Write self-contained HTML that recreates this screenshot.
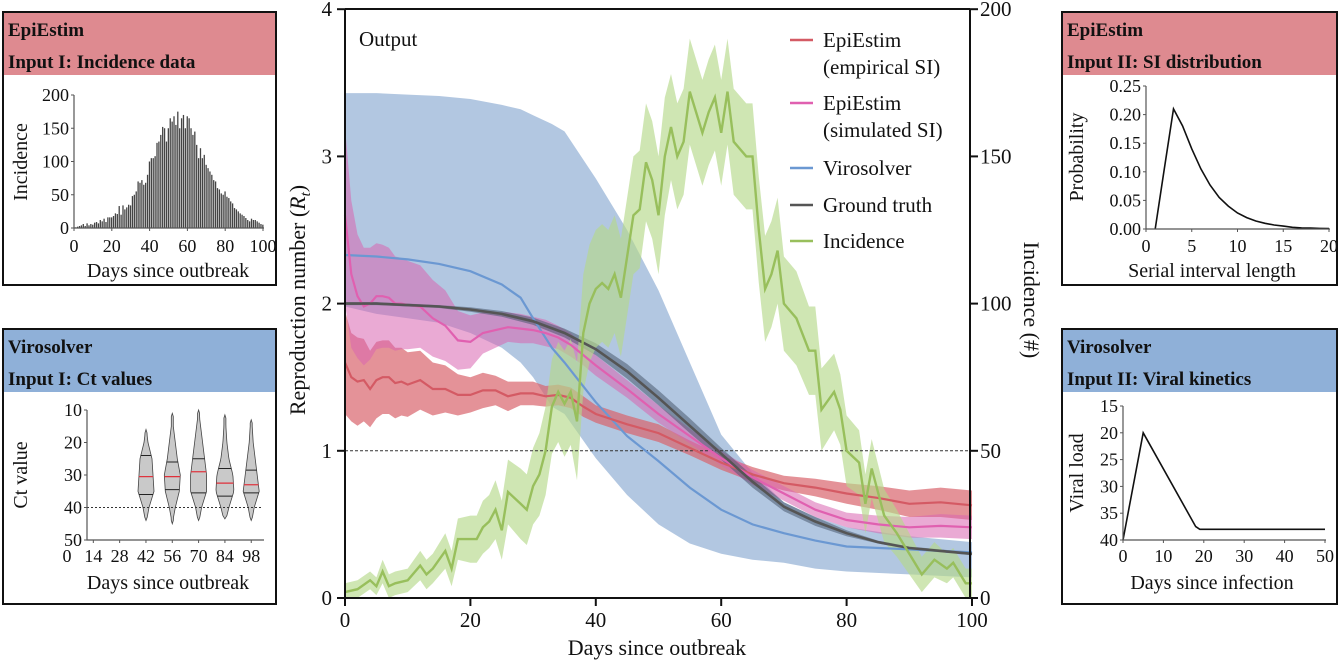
<!DOCTYPE html>
<html><head><meta charset="utf-8">
<style>
html,body{margin:0;padding:0;background:#fff;}
svg, svg text{font-family:"Liberation Serif","DejaVu Serif","Times New Roman",serif;}
svg{display:block;}
</style></head>
<body>
<svg id="fig" width="1340" height="664" viewBox="0 0 1340 664" font-family="Liberation Serif, DejaVu Serif, serif"></svg>
<script>
// ---------- Main chart data ----------
const redDays = [0,1,2,3,4,5,6,7,8,9,10,12,14,16,18,20,22,24,26,28,30,32,34,36,38,40,45,50,55,60,65,70,75,80,85,90,95,100];
const redVals = [1.6,1.5,1.47,1.48,1.42,1.48,1.5,1.5,1.46,1.47,1.45,1.48,1.42,1.42,1.38,1.38,1.41,1.41,1.37,1.39,1.39,1.37,1.38,1.36,1.3,1.25,1.18,1.12,1.02,0.92,0.84,0.78,0.75,0.71,0.68,0.64,0.65,0.63];
const redHw = [.35,.3,.3,.28,.26,.26,.25,.25,.24,.23,.22,.2,.18,.16,.14,.12,.12,.1,.1,.08,.08,.07,.07,.07,.07,.06,.06,.06,.05,.05,.05,.05,.06,.07,.08,.09,.1,.1];
const pinkVals = [2.6,2.2,2.05,1.98,2.0,2.05,2.05,2.04,2.0,2.0,1.99,1.98,1.9,1.85,1.75,1.74,1.8,1.82,1.84,1.83,1.82,1.8,1.77,1.72,1.65,1.58,1.42,1.25,1.1,0.95,0.82,0.71,0.6,0.53,0.5,0.48,0.49,0.48];
const pinkHw = [.6,.5,.42,.4,.38,.36,.35,.34,.32,.31,.3,.28,.26,.24,.2,.18,.14,.12,.1,.1,.09,.09,.08,.08,.07,.07,.06,.06,.05,.05,.05,.05,.05,.05,.06,.07,.08,.08];
const gtDays = [0,5,10,15,20,25,30,35,40,45,50,55,60,65,70,75,80,85,90,95,100];
const gtVals = [2.0,2.0,1.99,1.98,1.96,1.93,1.88,1.8,1.69,1.54,1.36,1.17,0.98,0.79,0.62,0.52,0.44,0.38,0.34,0.32,0.3];
const gtHw = [.01,.01,.01,.01,.015,.02,.025,.03,.04,.05,.05,.05,.04,.04,.03,.03,.02,.01,.01,.01,.01];
const viroDays = [0,5,10,15,20,25,28,30,33,35,40,45,50,55,60,65,70,75,80,90,100];
const viroVals = [2.33,2.32,2.3,2.27,2.22,2.13,2.04,1.9,1.7,1.6,1.33,1.1,0.93,0.75,0.6,0.5,0.44,0.39,0.35,0.33,0.31];
const viroHi = [3.43,3.43,3.42,3.41,3.39,3.35,3.32,3.28,3.22,3.17,2.85,2.5,2.09,1.6,1.11,0.85,0.65,0.55,0.48,0.42,0.38];
const viroLo = [1.98,1.93,1.9,1.87,1.8,1.7,1.6,1.5,1.3,1.25,0.95,0.7,0.5,0.37,0.3,0.26,0.24,0.2,0.18,0.16,0.14];
const incDays = [0,2,4,5,6,7,8,10,12,13, 14,16,17,18,20,21,22,23,24,25, 26,28,29,30,31,32,33,34,35,36, 37,38,39,40,41,42,43,44,46,47, 48,49,50,51,52,53,54,55,57,58, 59,60,61,62,64,65,66,67,68,69, 70,72,74,75,76,78,79,80,82,83, 84,86,88,90,92,94,96,97,99,100];
const incVals = [2,3,6,4,9,4,5,6,11,8, 10,16,10,20,20,20,24,26,30,23, 36,32,30,38,42,50,65,70,66,70, 60,90,100,105,107,105,110,102,130,132, 148,142,130,150,160,150,155,172,158,165, 170,158,172,155,150,150,125,105,110,118, 100,95,84,84,64,70,64,50,46,32, 44,28,22,15,8,13,10,12,5,5];
const incHw = [3,3,3,3,4,4,4,4,5,5, 5,6,6,7,8,8,9,9,10,10, 11,12,12,13,14,15,16,17,18,18, 20,20,20,20,20,20,20,20,20,20, 20,20,20,20,18,18,18,18,18,18, 18,18,18,18,18,18,18,18,18,18, 16,16,15,15,14,13,12,12,11,10, 10,9,8,7,6,6,5,5,5,5];
const xTicks = [0,20,40,60,80,100];
const rTicks = [0,1,2,3,4];
const incTicks = [0,50,100,150,200];

// ---------- Panel data ----------
const barVals = [1,2,3,4,6,3,7,4,6,5, 8,9,7,12,10,14,9,16,16,16, 18,22,21,33,20,34,28,31,35,34, 48,50,55,70,68,72,65,68,80,100, 105,105,108,128,130,140,152,150,130,150, 165,160,168,155,175,150,165,170,150,168, 165,150,140,145,125,105,120,105,110,95, 90,85,80,72,70,60,58,52,50,55, 47,45,40,37,30,28,25,22,20,18, 15,12,10,14,12,12,10,8,6,5];
const violinDays = [42,56,70,84,98];
const violinMed = [30.5,30.5,29,32.5,33];
const violinQ1 = [24,26,25,28,28.5];
const violinQ3 = [36,34.5,35.5,36.5,35.5];
const violinMin = [16,11,10,11.5,13];
const violinMax = [44,45,44,44,44];
const ctLevels = [10,15,20,25,30,35,40,45];
const violinWidths = [[0,0,2,6,7,8,3,0],[0,1,3,5,8,7,3,0],[0,2,4,6,8,8,3,0],[0,1,2,4,8,9,4,0],[0,1,2,4,6,8,3,0]];
const siDays = [1,2,3,4,5,6,7,8,9,10,11,12,13,14,15,16,17,18,19,20];
const siProb = [0,0.105,0.21,0.18,0.14,0.105,0.077,0.055,0.04,0.028,0.02,0.014,0.01,0.007,0.005,0.003,0.002,0.0015,0.001,0.0007];
const vkDays = [0,5,18,19,50];
const vkLoad = [40,20,37.5,38,38];

const NS = "http://www.w3.org/2000/svg";
const svg = document.getElementById('fig');
const FF = '"Liberation Serif","DejaVu Serif",serif';
function mk(tag, attrs, parent){
  const e = document.createElementNS(NS, tag);
  for (const k in attrs) e.setAttribute(k, attrs[k]);
  if (tag === 'text') e.style.fontFamily = FF;
  (parent||svg).appendChild(e);
  return e;
}
function txt(s, x, y, size, anchor, extra){
  const t = mk('text', Object.assign({x:x, y:y, 'font-size':size, 'text-anchor':anchor||'start', fill:'#111'}, extra||{}));
  t.textContent = s;
  return t;
}
function pathOf(xs, ys){ return xs.map((x,i)=>(i?'L':'M')+x.toFixed(1)+','+ys[i].toFixed(1)).join(''); }
function bandPath(xs, lo, hi){
  let d = xs.map((x,i)=>(i?'L':'M')+x.toFixed(1)+','+hi[i].toFixed(1)).join('');
  for (let i=xs.length-1;i>=0;i--) d += 'L'+xs[i].toFixed(1)+','+lo[i].toFixed(1);
  return d+'Z';
}

// ---------- Main chart ----------
const X = d => 345 + d*6.27;
const YR = r => 598 - r*147.2;
const YI = v => 598 - v*2.944;

let e;
e = mk('path', {d: bandPath(viroDays.map(X), viroLo.map(YR), viroHi.map(YR)), fill:'#9fb9da', opacity:0.8});


e = mk('path', {d: bandPath(redDays.map(X), redDays.map((d,i)=>YR(redVals[i]-redHw[i])), redDays.map((d,i)=>YR(redVals[i]+redHw[i]))), fill:'#d9646c', opacity:0.7});


e = mk('path', {d: bandPath(redDays.map(X), redDays.map((d,i)=>YR(pinkVals[i]-pinkHw[i])), redDays.map((d,i)=>YR(pinkVals[i]+pinkHw[i]))), fill:'#d964b0', opacity:0.55});


e = mk('path', {d: bandPath(gtDays.map(X), gtDays.map((d,i)=>YR(gtVals[i]-gtHw[i])), gtDays.map((d,i)=>YR(gtVals[i]+gtHw[i]))), fill:'#4a5a70', opacity:0.55});


e = mk('path', {d: bandPath(incDays.map(X), incDays.map((d,i)=>YI(Math.max(0,incVals[i]-incHw[i]))), incDays.map((d,i)=>YI(incVals[i]+incHw[i]))), fill:'#b5d98a', opacity:0.65});



e = mk('line', {x1:X(0), x2:X(100), y1:YR(1), y2:YR(1), stroke:'#333', 'stroke-width':1, 'stroke-dasharray':'3,2'});



e = mk('path', {d: pathOf(viroDays.map(X), viroVals.map(YR)), fill:'none', stroke:'#6b98d2', 'stroke-width':2.2});


e = mk('path', {d: pathOf(redDays.map(X), redVals.map(YR)), fill:'none', stroke:'#d45a64', 'stroke-width':2.2});


e = mk('path', {d: pathOf(redDays.map(X), pinkVals.map(YR)), fill:'none', stroke:'#e060b0', 'stroke-width':2.2});


e = mk('path', {d: pathOf(gtDays.map(X), gtVals.map(YR)), fill:'none', stroke:'#555', 'stroke-width':2.6});


e = mk('path', {d: pathOf(incDays.map(X), incVals.map(YI)), fill:'none', stroke:'#98bf5c', 'stroke-width':2.4});



e = mk('path', {d:'M345,9L970,9M345,9L345,598L970,598L970,9', fill:'none', stroke:'#111', 'stroke-width':2});


rTicks.forEach(r=>{
  mk('line',{x1:337,x2:345,y1:YR(r),y2:YR(r),stroke:'#111','stroke-width':2});
  e = txt(String(r), 332, YR(r)+7, 21, 'end');
  
  
});
incTicks.forEach(v=>{
  mk('line',{x1:970,x2:978,y1:YI(v),y2:YI(v),stroke:'#111','stroke-width':2});
  e = txt(String(v), 980, YI(v)+7, 21, 'start');
  
  
});
xTicks.forEach(d=>{
  mk('line',{x1:X(d),x2:X(d),y1:598,y2:606,stroke:'#111','stroke-width':2});
  e = txt(String(d), X(d), 627, 21, 'middle');
  
  
});
e = txt('Days since outbreak', 657, 655, 22, 'middle');


e = mk('text', {x:0, y:0, 'font-size':22, 'text-anchor':'middle', fill:'#111', transform:'translate(305,300) rotate(-90)'});
e.innerHTML = 'Reproduction number (<tspan font-style="italic">R</tspan><tspan font-style="italic" font-size="15" dy="5">t</tspan><tspan dy="-5">)</tspan>';


e = txt('Incidence (#)', 0, 0, 22, 'middle', {transform:'translate(1024,300) rotate(90)'});


e = txt('Output', 359, 46, 21, 'start');



const legColors = ['#d45a64','#e060b0','#6b98d2','#555','#98bf5c'];
const legY = [40,103,168,205,241];
const legText = [['EpiEstim','(empirical SI)'],['EpiEstim','(simulated SI)'],['Virosolver'],['Ground truth'],['Incidence']];
legColors.forEach((c,i)=>{
  const g = mk('g',{});
  
  
  mk('line',{x1:790,x2:813,y1:legY[i],y2:legY[i],stroke:c,'stroke-width':2.5},g);
  legText[i].forEach((s,j)=>{ const t=mk('text',{x:823,y:legY[i]+7+j*27,'font-size':21,fill:'#111'},g); t.textContent=s; });
});

// ---------- Panels ----------
function panel(x,y,w,h,hh,color,t1,t2,name){
  const g = mk('g',{});
  
  
  mk('rect',{x:x,y:y,width:w,height:hh,fill:color},g);
  mk('rect',{x:x,y:y,width:w,height:h,fill:'none',stroke:'#111','stroke-width':2},g);
  let t = mk('text',{x:x+5,y:y+24,'font-size':19,'font-weight':'bold',fill:'#111'},g); t.textContent=t1;
  t = mk('text',{x:x+5,y:y+56,'font-size':19,'font-weight':'bold',fill:'#111'},g); t.textContent=t2;
}
panel(3,12,273,273,63,'#de8a90','EpiEstim','Input I: Incidence data','panel-incidence');
panel(3,329,273,275,63,'#8fb0d8','Virosolver','Input I: Ct values','panel-ct-values');
panel(1062,12,275,273,63,'#de8a90','EpiEstim','Input II: SI distribution','panel-si-distribution');
panel(1062,329,275,275,63,'#8fb0d8','Virosolver','Input II: Viral kinetics','panel-viral-kinetics');

const bx = d => 74 + d*1.89;
const by = v => 228 - v*0.665;
barVals.forEach((v,i)=>{
  e = mk('rect',{x:bx(i+1)-0.8,y:by(v),width:1.3,height:228-by(v),fill:'#444'});
  
  
});
mk('path',{d:'M74,95L74,228L264,228',fill:'none',stroke:'#555','stroke-width':1.2});
[0,50,100,150,200].forEach(v=>{ mk('line',{x1:71,x2:74,y1:by(v),y2:by(v),stroke:'#555'}); txt(String(v),69,by(v)+6,18,'end'); });
[0,20,40,60,80,100].forEach(d=>{ mk('line',{x1:bx(d),x2:bx(d),y1:228,y2:231,stroke:'#555'}); txt(String(d),bx(d),252,18,'middle'); });
txt('Days since outbreak',168,277,20,'middle');
txt('Incidence',0,0,20,'middle',{transform:'translate(27,162) rotate(-90)'});

const vx = d => 67 + d*1.88;
const vy = c => 410 + (c-10)*3.25;
function widthAt(k,c){
  for (let j=0;j<ctLevels.length-1;j++){
    if (c>=ctLevels[j] && c<=ctLevels[j+1]){
      const f=(c-ctLevels[j])/(ctLevels[j+1]-ctLevels[j]);
      return violinWidths[k][j]*(1-f)+violinWidths[k][j+1]*f;
    }
  }
  return 0;
}
violinDays.forEach((d,k)=>{
  const g = mk('g',{});
  
  
  const cs=[]; for(let c=violinMin[k]; c<=violinMax[k]+0.01; c+=1) cs.push(c);
  const cx=vx(d);
  let p = cs.map((c,i)=>{ const w=(i===0||i===cs.length-1)?0:Math.max(1,widthAt(k,c)); return (i?'L':'M')+(cx+w).toFixed(1)+','+vy(c).toFixed(1); }).join('');
  for(let i=cs.length-1;i>=0;i--){ const c=cs[i]; const w=(i===0||i===cs.length-1)?0:Math.max(1,widthAt(k,c)); p+='L'+(cx-w).toFixed(1)+','+vy(c).toFixed(1); }
  mk('path',{d:p+'Z',fill:'#c9c9c9',stroke:'#444','stroke-width':0.8},g);
  [violinQ1[k],violinQ3[k]].forEach(q=>{ const w=widthAt(k,q); mk('line',{x1:cx-w,x2:cx+w,y1:vy(q),y2:vy(q),stroke:'#222','stroke-width':1},g); });
  const wm=widthAt(k,violinMed[k]);
  mk('line',{x1:cx-wm,x2:cx+wm,y1:vy(violinMed[k]),y2:vy(violinMed[k]),stroke:'#e0303a','stroke-width':1.2},g);
});
mk('line',{x1:87,x2:263,y1:vy(40),y2:vy(40),stroke:'#333','stroke-width':1,'stroke-dasharray':'2,2'});
mk('path',{d:'M87,410L87,540L264,540',fill:'none',stroke:'#555','stroke-width':1.2});
[10,20,30,40,50].forEach(c=>{ mk('line',{x1:84,x2:87,y1:vy(c),y2:vy(c),stroke:'#555'}); txt(String(c),82,vy(c)+6,18,'end'); });
[0,14,28,42,56,70,84,98].forEach(d=>{ if(d>0) mk('line',{x1:vx(d),x2:vx(d),y1:540,y2:543,stroke:'#555'}); txt(String(d),vx(d),562,18,'middle'); });
txt('Days since outbreak',168,589,20,'middle');
txt('Ct value',0,0,20,'middle',{transform:'translate(27,475) rotate(-90)'});

const sx = s => 1146 + s*9.15;
const sy = p => 229 - p*572;
e = mk('path',{d:pathOf(siDays.map(sx), siProb.map(sy)),fill:'none',stroke:'#111','stroke-width':1.6});


mk('path',{d:'M1146,86L1146,229L1330,229',fill:'none',stroke:'#555','stroke-width':1.2});
[0,0.05,0.1,0.15,0.2,0.25].forEach(p=>{ mk('line',{x1:1143,x2:1146,y1:sy(p),y2:sy(p),stroke:'#555'}); txt(p.toFixed(2),1141,sy(p)+6,18,'end'); });
[0,5,10,15,20].forEach(s=>{ mk('line',{x1:sx(s),x2:sx(s),y1:229,y2:232,stroke:'#555'}); txt(String(s),sx(s),252,18,'middle'); });
txt('Serial interval length',1212,277,20,'middle');
txt('Probability',0,0,20,'middle',{transform:'translate(1083,157) rotate(-90)'});

const kx = d => 1123 + d*4.04;
const ky = v => 406 + (v-15)*5.36;
e = mk('path',{d:pathOf(vkDays.map(kx), vkLoad.map(ky)),fill:'none',stroke:'#111','stroke-width':1.6});


mk('path',{d:'M1123,406L1123,540L1326,540',fill:'none',stroke:'#555','stroke-width':1.2});
[15,20,25,30,35,40].forEach(v=>{ mk('line',{x1:1120,x2:1123,y1:ky(v),y2:ky(v),stroke:'#555'}); txt(String(v),1118,ky(v)+6,18,'end'); });
[0,10,20,30,40,50].forEach(d=>{ mk('line',{x1:kx(d),x2:kx(d),y1:540,y2:543,stroke:'#555'}); txt(String(d),kx(d),562,18,'middle'); });
txt('Days since infection',1212,589,20,'middle');
txt('Viral load',0,0,20,'middle',{transform:'translate(1083,473) rotate(-90)'});
</script>
</body></html>
